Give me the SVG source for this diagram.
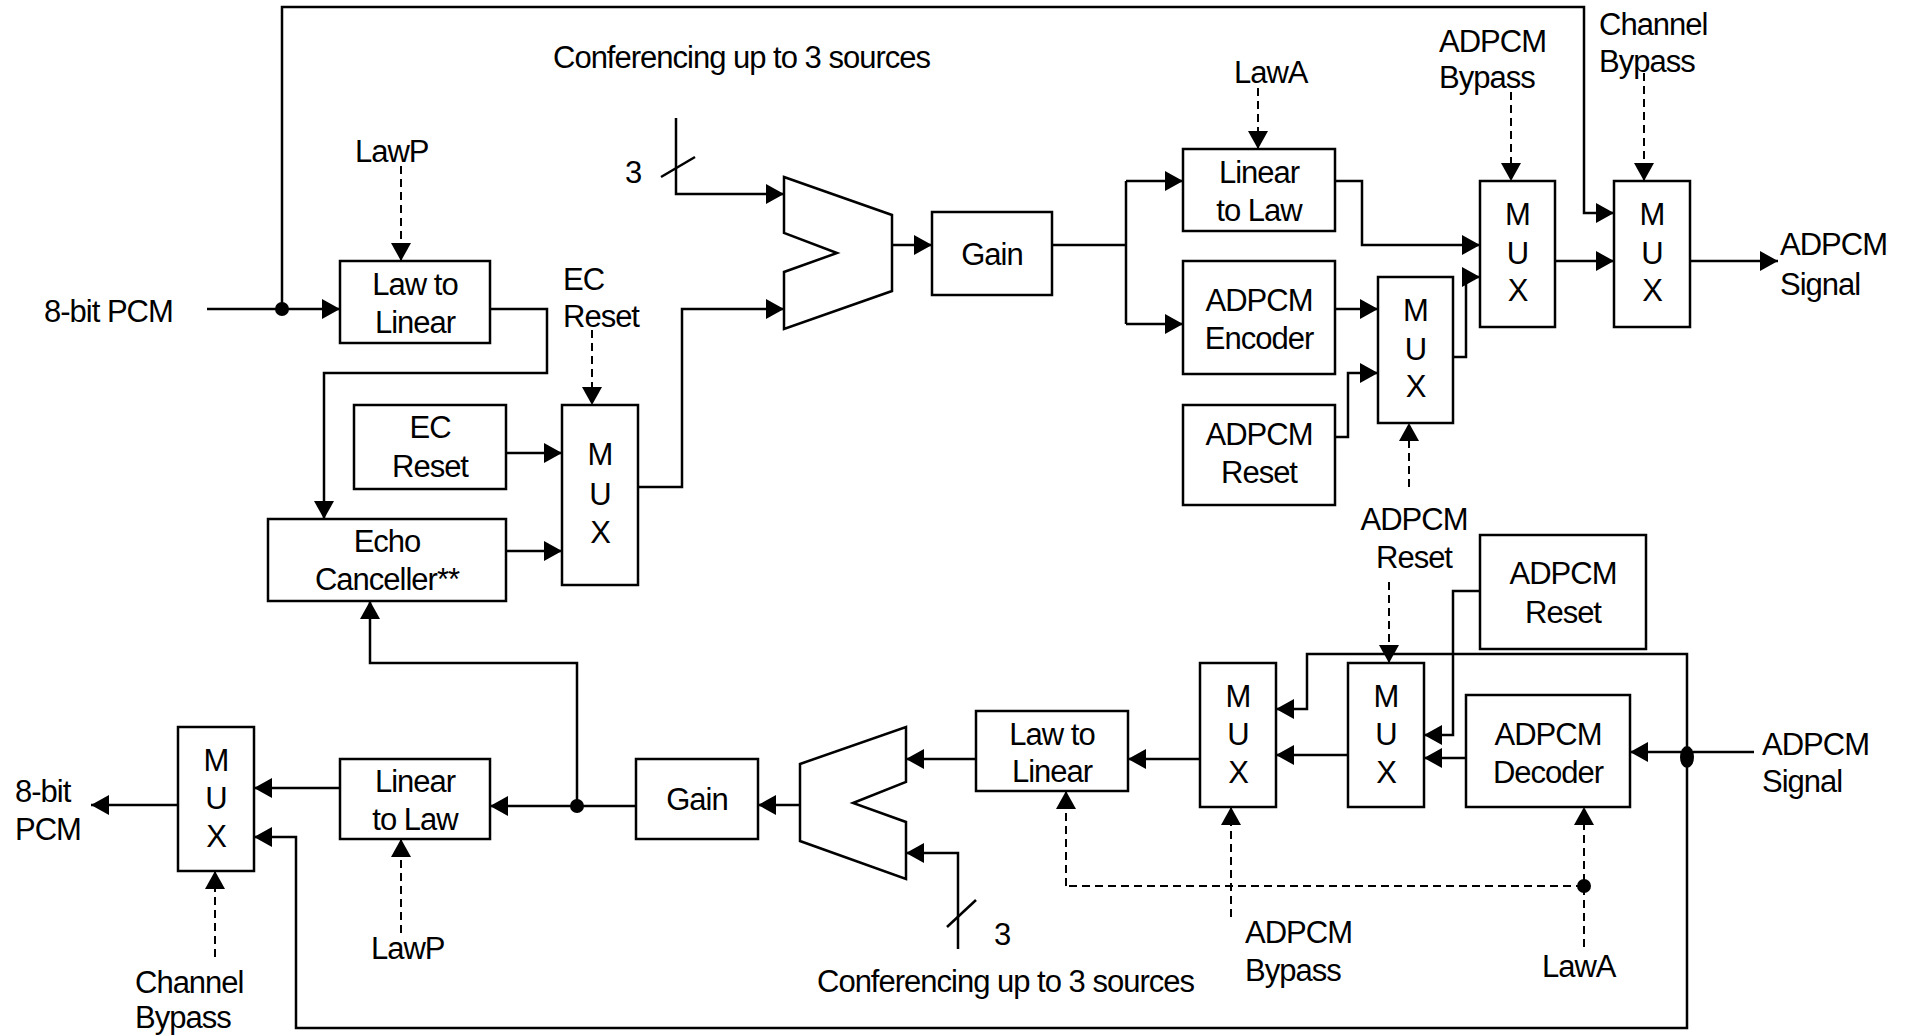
<svg xmlns="http://www.w3.org/2000/svg" width="1911" height="1035" viewBox="0 0 1911 1035">
<style>
  text { font-family: "Liberation Sans", Arial, sans-serif; font-size: 31px; letter-spacing: -1px; fill: #000; }
  .c { text-anchor: middle; }
  .box { fill: #fff; stroke: #000; stroke-width: 2.5; }
  .ln { fill: none; stroke: #000; stroke-width: 2.5; }
  .dl { fill: none; stroke: #000; stroke-width: 2; stroke-dasharray: 8 5; }
  .ar { marker-end: url(#ah); }
</style>
<defs>
  <marker id="ah" viewBox="0 0 18 20" refX="18" refY="10" markerWidth="18" markerHeight="20" markerUnits="userSpaceOnUse" orient="auto">
    <path d="M0,0 L18,10 L0,20 Z" fill="#000"/>
  </marker>
</defs>
<rect width="1911" height="1035" fill="#fff"/>

<g id="connectors">
  <!-- top path -->
  <path class="ln ar" d="M207,309 H340"/>
  <path class="ln ar" d="M282,309 V7 H1584 V213 H1614"/>
  <path class="dl ar" d="M401,166 V261"/>
  <path class="ln ar" d="M490,309 H547 V373 H324 V519"/>
  <path class="ln ar" d="M506,453 H562"/>
  <path class="ln ar" d="M506,551 H562"/>
  <path class="dl ar" d="M592,330 V405"/>
  <path class="ln ar" d="M638,487 H682 V309 H784"/>
  <path class="ln ar" d="M676,118 V194 H784"/>
  <path class="ln" d="M661,177 L695,157"/>
  <path class="ln ar" d="M888,245 H932"/>
  <path class="ln" d="M1052,245 H1126 M1126,181 V324"/>
  <path class="ln ar" d="M1126,181 H1183"/>
  <path class="ln ar" d="M1126,324 H1183"/>
  <path class="dl ar" d="M1258,88 V149"/>
  <path class="ln ar" d="M1335,181 H1362 V245 H1480"/>
  <path class="ln ar" d="M1335,309 H1378"/>
  <path class="ln ar" d="M1335,437 H1348 V373 H1378"/>
  <path class="ln ar" d="M1453,357 H1466 V277 H1480"/>
  <path class="dl ar" d="M1511,92 V181"/>
  <path class="dl ar" d="M1644,73 V181"/>
  <path class="ln ar" d="M1555,261 H1614"/>
  <path class="ln ar" d="M1690,261 H1778"/>
  <path class="dl ar" d="M1409,487 V423"/>
  <!-- bottom path -->
  <path class="ln ar" d="M1754,752 H1630"/>
  <path class="ln ar" d="M1687,757 V654 H1307 V709 H1276"/>
  <path class="ln ar" d="M1687,757 V1028 H296 V837 H254"/>
  <path class="ln ar" d="M1466,758 H1424"/>
  <path class="ln ar" d="M1480,591 H1453 V735 H1424"/>
  <path class="dl ar" d="M1389,582 V663"/>
  <path class="ln ar" d="M1348,755 H1276"/>
  <path class="ln ar" d="M1200,759 H1128"/>
  <path class="ln ar" d="M976,759 H906"/>
  <path class="ln ar" d="M958,949 V853 H906"/>
  <path class="ln" d="M947,927 L976,900"/>
  <path class="ln ar" d="M800,805 H758"/>
  <path class="ln ar" d="M636,806 H490"/>
  <path class="ln ar" d="M577,806 V663 H370 V601"/>
  <path class="ln ar" d="M340,788 H254"/>
  <path class="ln ar" d="M178,805 H91"/>
  <path class="dl ar" d="M215,957 V871"/>
  <path class="dl ar" d="M401,933 V839"/>
  <path class="dl ar" d="M1584,947 V807"/>
  <path class="dl" d="M1584,886 H1066"/>
  <path class="dl ar" d="M1066,886 V791"/>
  <path class="dl ar" d="M1231,917 V807"/>
  <!-- junction dots -->
  <circle cx="282" cy="309" r="7"/>
  <circle cx="577" cy="806" r="7"/>
  <circle cx="1584" cy="886" r="7"/>
  <ellipse cx="1687" cy="757" rx="7" ry="11"/>
</g>

<!-- labels -->
<g id="labels">
  <text x="44" y="322">8-bit PCM</text>
  <text x="553" y="68">Conferencing up to 3 sources</text>
  <text x="355" y="162">LawP</text>
  <text x="625" y="183">3</text>
  <text x="563" y="290">EC</text>
  <text x="563" y="327">Reset</text>
  <text x="1234" y="83">LawA</text>
  <text x="1439" y="52">ADPCM</text>
  <text x="1439" y="88">Bypass</text>
  <text x="1599" y="35">Channel</text>
  <text x="1599" y="72">Bypass</text>
  <text x="1780" y="255">ADPCM</text>
  <text x="1780" y="295">Signal</text>
  <text class="c" x="1414" y="530">ADPCM</text>
  <text class="c" x="1414" y="568">Reset</text>
  <text x="1762" y="755">ADPCM</text>
  <text x="1762" y="792">Signal</text>
  <text x="15" y="802">8-bit</text>
  <text x="15" y="840">PCM</text>
  <text x="135" y="993">Channel</text>
  <text x="135" y="1028">Bypass</text>
  <text x="371" y="959">LawP</text>
  <text x="994" y="945">3</text>
  <text x="817" y="992">Conferencing up to 3 sources</text>
  <text x="1245" y="943">ADPCM</text>
  <text x="1245" y="981">Bypass</text>
  <text x="1542" y="977">LawA</text>
</g>

<g id="law-to-linear-top">
  <rect class="box" x="340" y="261" width="150" height="82"/>
  <text class="c" x="415" y="295">Law to</text>
  <text class="c" x="415" y="333">Linear</text>
</g>
<g id="ec-reset-box">
  <rect class="box" x="354" y="405" width="152" height="84"/>
  <text class="c" x="430" y="438">EC</text>
  <text class="c" x="430" y="477">Reset</text>
</g>
<g id="echo-canceller">
  <rect class="box" x="268" y="519" width="238" height="82"/>
  <text class="c" x="387" y="552">Echo</text>
  <text class="c" x="387" y="590">Canceller**</text>
</g>
<g id="ec-mux">
  <rect class="box" x="562" y="405" width="76" height="180"/>
  <text class="c" x="600" y="465">M</text>
  <text class="c" x="600" y="505">U</text>
  <text class="c" x="600" y="543">X</text>
</g>
<g id="adder-top">
  <path class="box" d="M784,177 L892,215 L892,291 L784,329 L784,272 L837,253 L784,233 Z"/>
</g>
<g id="gain-top">
  <rect class="box" x="932" y="212" width="120" height="83"/>
  <text class="c" x="992" y="265">Gain</text>
</g>
<g id="linear-to-law-top">
  <rect class="box" x="1183" y="149" width="152" height="82"/>
  <text class="c" x="1259" y="183">Linear</text>
  <text class="c" x="1259" y="221">to Law</text>
</g>
<g id="adpcm-encoder">
  <rect class="box" x="1183" y="261" width="152" height="113"/>
  <text class="c" x="1259" y="311">ADPCM</text>
  <text class="c" x="1259" y="349">Encoder</text>
</g>
<g id="adpcm-reset-top">
  <rect class="box" x="1183" y="405" width="152" height="100"/>
  <text class="c" x="1259" y="445">ADPCM</text>
  <text class="c" x="1259" y="483">Reset</text>
</g>
<g id="mux-encoder">
  <rect class="box" x="1378" y="277" width="75" height="146"/>
  <text class="c" x="1415.5" y="321">M</text>
  <text class="c" x="1415.5" y="360">U</text>
  <text class="c" x="1415.5" y="397">X</text>
</g>
<g id="mux-adpcm-bypass-top">
  <rect class="box" x="1480" y="181" width="75" height="146"/>
  <text class="c" x="1517.5" y="225">M</text>
  <text class="c" x="1517.5" y="264">U</text>
  <text class="c" x="1517.5" y="301">X</text>
</g>
<g id="mux-channel-bypass-top">
  <rect class="box" x="1614" y="181" width="76" height="146"/>
  <text class="c" x="1652" y="225">M</text>
  <text class="c" x="1652" y="264">U</text>
  <text class="c" x="1652" y="301">X</text>
</g>

<g id="adpcm-reset-bottom">
  <rect class="box" x="1480" y="535" width="166" height="114"/>
  <text class="c" x="1563" y="584">ADPCM</text>
  <text class="c" x="1563" y="623">Reset</text>
</g>
<g id="adpcm-decoder">
  <rect class="box" x="1466" y="695" width="164" height="112"/>
  <text class="c" x="1548" y="745">ADPCM</text>
  <text class="c" x="1548" y="783">Decoder</text>
</g>
<g id="mux-decoder">
  <rect class="box" x="1348" y="663" width="76" height="144"/>
  <text class="c" x="1386" y="707">M</text>
  <text class="c" x="1386" y="745">U</text>
  <text class="c" x="1386" y="783">X</text>
</g>
<g id="mux-adpcm-bypass-bottom">
  <rect class="box" x="1200" y="663" width="76" height="144"/>
  <text class="c" x="1238" y="707">M</text>
  <text class="c" x="1238" y="745">U</text>
  <text class="c" x="1238" y="783">X</text>
</g>
<g id="law-to-linear-bottom">
  <rect class="box" x="976" y="711" width="152" height="80"/>
  <text class="c" x="1052" y="745">Law to</text>
  <text class="c" x="1052" y="782">Linear</text>
</g>
<g id="adder-bottom">
  <path class="box" d="M800,764 L906,727 L906,782 L853,803 L906,822 L906,879 L800,841 Z"/>
</g>
<g id="gain-bottom">
  <rect class="box" x="636" y="759" width="122" height="80"/>
  <text class="c" x="697" y="810">Gain</text>
</g>
<g id="linear-to-law-bottom">
  <rect class="box" x="340" y="759" width="150" height="80"/>
  <text class="c" x="415" y="792">Linear</text>
  <text class="c" x="415" y="830">to Law</text>
</g>
<g id="mux-channel-bypass-bottom">
  <rect class="box" x="178" y="727" width="76" height="144"/>
  <text class="c" x="216" y="771">M</text>
  <text class="c" x="216" y="809">U</text>
  <text class="c" x="216" y="847">X</text>
</g>
</svg>
